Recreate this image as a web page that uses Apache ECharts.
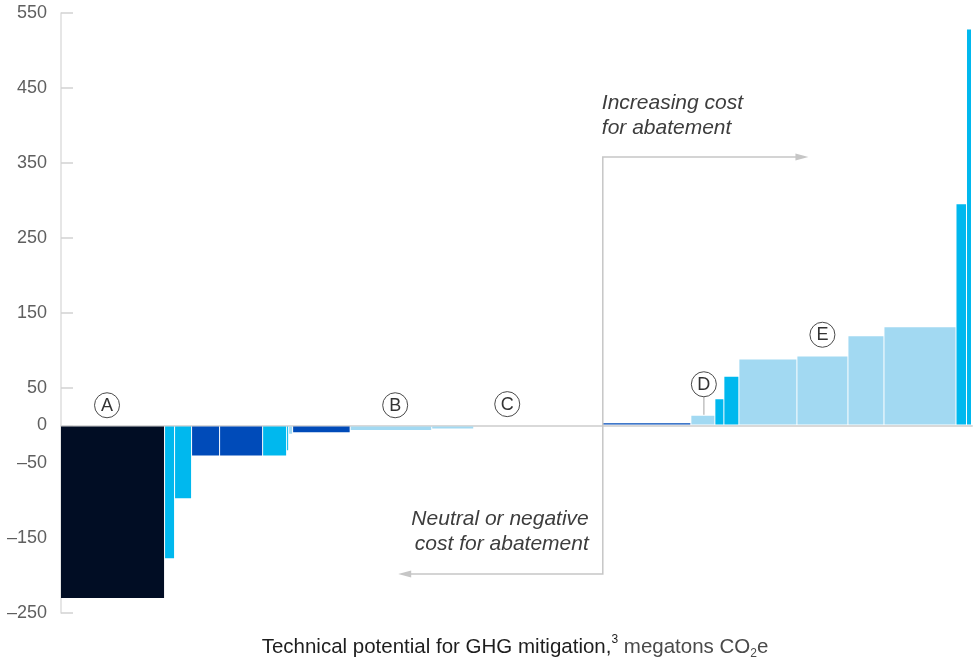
<!DOCTYPE html>
<html>
<head>
<meta charset="utf-8">
<script src="https://cdn.jsdelivr.net/npm/echarts@6/dist/echarts.min.js"></script>
<style>
  html, body { margin: 0; padding: 0; background: #ffffff; }
  #chart { width: 974px; height: 664px; }
</style>
</head>
<body>
<div id="chart"></div>
<script>
// Abatement levers, ordered by cost: width = technical potential, height = cost per ton
const widths = [10.4, 1.0, 1.7, 2.8, 4.3, 2.4, 0.2, 0.4, 5.75, 8.15, 4.2, 12.85, 8.85, 2.4, 0.9, 1.5, 5.8, 5.1, 3.6, 7.2, 1.05, 0.5];
const costs  = [-230, -177, -97, -40, -40, -40, -33, -11, -9, -6, -4, 0, 3, 13, 35, 65, 88, 92, 119, 131, 295, 528];
const colorKeys = ['navy', 'cyan', 'cyan', 'blue', 'blue', 'cyan', 'cyan', 'light', 'blue', 'light', 'light', 'light',
                   'blue', 'light', 'cyan', 'cyan', 'light', 'light', 'light', 'light', 'cyan', 'cyan'];

// Cost axis tick labels
const yTickValues = [550, 450, 350, 250, 150, 50, 0, -50, -150, -250];

// Lettered callouts: [letter, x (Mt), y (cost), index of bar the leader points to or -1]
const markers = [['A', 4.6, 27, -1], ['B', 33.4, 27, -1], ['C', 44.6, 28.5, -1], ['D', 64.25, 55, 13], ['E', 76.1, 121, -1]];

// Direction arrows: [cost level, x where arrow ends]
const upperArrow = [358, 74.7];
const lowerArrow = [-198, 33.7];

const palette = { navy: '#010d24', cyan: '#00b8ee', blue: '#004bb9', light: '#a2d9f2' };
const FONT = '"Liberation Sans", Arial, Helvetica, sans-serif';

// Cumulative layout along the potential axis
const bars = [];
let acc = 0;
widths.forEach((w, i) => { bars.push([acc, acc + w, costs[i], i]); acc += w; });
const total = acc;
const dividerX = bars[costs.findIndex(c => c > 0)][0];

function renderBar(params, api) {
  const x0 = api.value(0), x1 = api.value(1), v = api.value(2);
  const base = api.coord([x0, 0]);
  const end = api.coord([x1, v]);
  const w = Math.max(end[0] - base[0] - 1, 1);
  let y0, y1;
  if (v >= 0) { y0 = end[1]; y1 = base[1] - 1; }
  else { y0 = base[1] + 1; y1 = end[1]; }
  if (y1 - y0 < 0.5) return null;
  return {
    type: 'rect',
    shape: { x: base[0], y: y0, width: w, height: y1 - y0 },
    style: { fill: palette[colorKeys[api.value(3)]] }
  };
}

function renderNotes(params, api) {
  const children = [];
  const lineStyle = { stroke: '#c6c6c6', lineWidth: 1.5, fill: null };
  const top = api.coord([dividerX, upperArrow[0]]);
  const bottom = api.coord([dividerX, lowerArrow[0]]);
  const upEnd = api.coord([upperArrow[1], upperArrow[0]]);
  const lowEnd = api.coord([lowerArrow[1], lowerArrow[0]]);

  children.push({ type: 'polyline', shape: { points: [[upEnd[0] - 10, top[1]], top, bottom, [lowEnd[0] + 10, bottom[1]]] }, style: lineStyle });
  children.push({ type: 'polygon', shape: { points: [[upEnd[0], upEnd[1]], [upEnd[0] - 13, upEnd[1] - 3.5], [upEnd[0] - 13, upEnd[1] + 3.5]] }, style: { fill: '#c6c6c6' } });
  children.push({ type: 'polygon', shape: { points: [[lowEnd[0], lowEnd[1]], [lowEnd[0] + 13, lowEnd[1] - 3.5], [lowEnd[0] + 13, lowEnd[1] + 3.5]] }, style: { fill: '#c6c6c6' } });

  children.push({
    type: 'text',
    style: { x: top[0] - 1, y: top[1] - 41, text: 'Increasing cost\nfor abatement', font: 'italic 21px ' + FONT,
             fill: '#3d3d3d', align: 'left', verticalAlign: 'middle', lineHeight: 25 }
  });
  children.push({
    type: 'text',
    style: { x: bottom[0] - 14, y: bottom[1] - 42.5, text: 'Neutral or negative\ncost for abatement', font: 'italic 21px ' + FONT,
             fill: '#3d3d3d', align: 'right', verticalAlign: 'middle', lineHeight: 25 }
  });

  markers.forEach(m => {
    const c = api.coord([m[1], m[2]]);
    if (m[3] >= 0) {
      const tip = api.coord([m[1], costs[m[3]]]);
      children.push({ type: 'line', shape: { x1: c[0], y1: c[1] + 12.5, x2: tip[0], y2: tip[1] - 1 }, style: { stroke: '#c2c2c2', lineWidth: 1.5 } });
    }
    children.push({ type: 'circle', shape: { cx: c[0], cy: c[1], r: 12.5 }, style: { fill: '#ffffff', stroke: '#4a4a4a', lineWidth: 1 } });
    children.push({ type: 'text', style: { x: c[0], y: c[1] + 0.5, text: m[0], font: '18px ' + FONT, fill: '#333333', align: 'center', verticalAlign: 'middle' } });
  });

  return { type: 'group', children: children };
}

const chart = echarts.init(document.getElementById('chart'), null, { renderer: 'canvas' });

chart.setOption({
  animation: false,
  backgroundColor: '#ffffff',
  textStyle: { fontFamily: FONT },
  grid: { left: 61, right: 2, top: 13, height: 600, containLabel: false },
  xAxis: {
    type: 'value', min: 0, max: total,
    axisLine: { show: true, onZero: true, lineStyle: { color: '#d9d9d9', width: 2 } },
    axisTick: { show: false }, axisLabel: { show: false }, splitLine: { show: false }
  },
  yAxis: {
    type: 'value', min: -250, max: 550,
    axisLine: { show: true, lineStyle: { color: '#dedede', width: 1.5 } },
    axisTick: { show: true, inside: true, length: 12, customValues: yTickValues, lineStyle: { color: '#d2d2d2', width: 1.5 } },
    axisLabel: {
      customValues: yTickValues, margin: 14, fontSize: 18, color: '#5f5f5f', fontFamily: FONT,
      formatter: v => String(v).replace('-', '\u2013')
    },
    splitLine: { show: false }
  },
  graphic: [{
    type: 'text', x: 515, y: 647,
    style: {
      text: '{a|Technical potential for GHG mitigation,}{sup|3}{b| megatons CO}{sub|2}{b|e}',
      align: 'center', verticalAlign: 'middle',
      rich: {
        a: { fontSize: 20.5, fontFamily: FONT, fill: '#1e1e1e', lineHeight: 26 },
        b: { fontSize: 20.5, fontFamily: FONT, fill: '#4a4a4a', lineHeight: 26 },
        sup: { fontSize: 12, fontFamily: FONT, fill: '#1e1e1e', lineHeight: 22, verticalAlign: 'top' },
        sub: { fontSize: 12, fontFamily: FONT, fill: '#4a4a4a', lineHeight: 14, verticalAlign: 'bottom' }
      }
    }
  }],
  series: [
    {
      type: 'custom', name: 'Abatement levers', coordinateSystem: 'cartesian2d',
      renderItem: renderBar, encode: { x: [0, 1], y: 2 }, data: bars, silent: true, z: 3
    },
    {
      type: 'custom', name: 'Notes', coordinateSystem: 'cartesian2d',
      renderItem: renderNotes, data: [[0, 0]], silent: true, z: 4
    }
  ]
});
</script>
</body>
</html>
